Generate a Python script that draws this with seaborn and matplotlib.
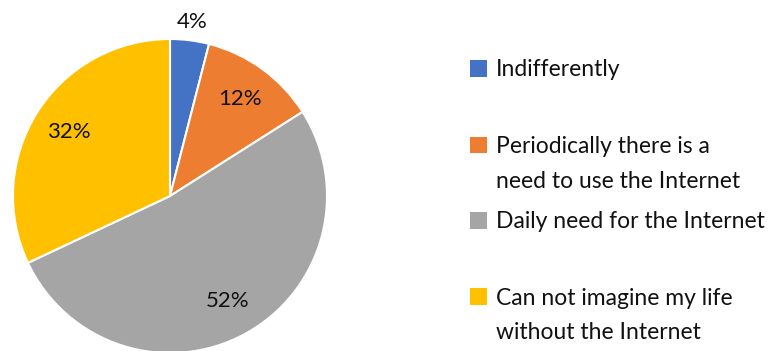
import matplotlib
matplotlib.use("Agg")
import numpy as np
import matplotlib.pyplot as plt
import seaborn as sns
from matplotlib.patches import Patch

# Survey answers and their shares (%)
categories = [
    "Indifferently",
    "Periodically there is a\nneed to use the Internet",
    "Daily need for the Internet",
    "Can not imagine my life\nwithout the Internet",
]
shares = [4, 12, 52, 32]
palette = ["#4472C4", "#ED7D31", "#A5A5A5", "#FFC000"]

sns.set_theme(style="white")
plt.rcParams["font.family"] = ["Lato", "DejaVu Sans"]

W, H = 772, 351
fig = plt.figure(figsize=(W / 100, H / 100), dpi=100)
fig.patch.set_facecolor("white")

# pie placement in pixels: centre and radius
cx, cy, R = 170, 196, 157
half = R * 1.25
ax = fig.add_axes([(cx - half) / W, (H - cy - half) / H, 2 * half / W, 2 * half / H])

wedges, texts, autotexts = ax.pie(
    shares,
    colors=palette,
    startangle=90,
    counterclock=False,
    autopct=lambda p: f"{p:.0f}%",
    pctdistance=0.76,
    wedgeprops=dict(edgecolor="white", linewidth=1.5),
    textprops=dict(fontsize=16, color="#111111"),
)
ax.set_xlim(-1.25, 1.25)
ax.set_ylim(-1.25, 1.25)

# the thin first slice gets its label just outside the rim
w0 = wedges[0]
mid = np.deg2rad((w0.theta1 + w0.theta2) / 2)
autotexts[0].set_position((1.115 * np.cos(mid), 1.115 * np.sin(mid)))

# one legend block per answer; continuation lines get a blank handle so the
# coloured square sits beside the first line
entry_y = [70, 164, 222, 315.5]
for lab, col, yc in zip(categories, palette, entry_y):
    lines = lab.split("\n")
    handles = [Patch(facecolor=col, edgecolor="none")]
    handles += [Patch(facecolor="none", edgecolor="none")] * (len(lines) - 1)
    fig.legend(
        handles=handles,
        labels=lines,
        loc="center left",
        bbox_to_anchor=(470 / W, 1 - yc / H),
        frameon=False,
        fontsize=16.5,
        handlelength=0.72,
        handleheight=0.72,
        handletextpad=0.4,
        labelspacing=0.6,
        borderpad=0,
        borderaxespad=0,
        labelcolor="#111111",
    )

fig.savefig("out.png", dpi=100, facecolor="white")
